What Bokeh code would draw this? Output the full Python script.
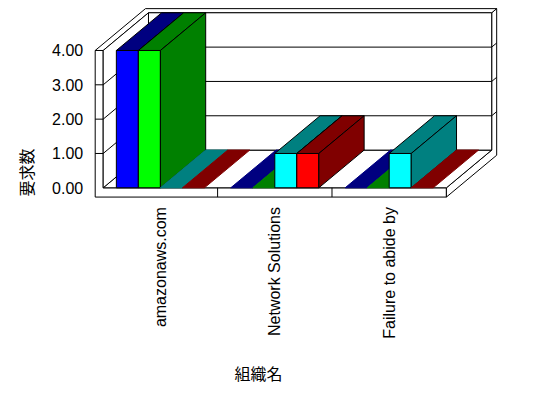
import math
from bokeh.plotting import figure
from bokeh.models import FixedTicker, NumeralTickFormatter, Range1d, LinearAxis
from bokeh.core.properties import value
from bokeh.embed import file_html
from bokeh.resources import INLINE

# ---- data -------------------------------------------------------------
categories = ["amazonaws.com", "Network Solutions", "Failure to abide by"]
series_blue = [4, 0, 0]
series_lime = [4, 0, 0]
series_cyan = [0, 1, 1]
series_red = [0, 1, 0]
y_ticks = [0, 1, 2, 3, 4]
y_title = "要求数"
x_title = "組織名"

# ---- style ------------------------------------------------------------
front_colors = ["#0000FF", "#00FF00", "#00FFFF", "#FF0000"]
dark_colors = ["#000080", "#008000", "#008080", "#800000"]
series = [series_blue, series_lime, series_cyan, series_red]

n_cat = len(categories)
y_top = max(y_ticks)

DX, DY = 0.396, 1.098      # depth offset of the 3D box (data units)
T = 0.07                    # left wall thickness
F = 0.27                    # floor thickness
TZ = 0.11                   # back wall thickness (fraction of depth)
GAP = 0.115
BW = (1 - 2 * GAP) / len(series)


def proj(pts):
    xs = [x + z * DX for x, y, z in pts]
    ys = [y + z * DY for x, y, z in pts]
    return xs, ys


p = figure(width=548, height=398, output_backend="svg", toolbar_location=None,
           x_range=Range1d(-0.8977, 3.8925), y_range=Range1d(-6.1375, 5.4559),
           min_border=0, x_axis_location=None, y_axis_location=None)
p.xgrid.visible = False
p.ygrid.visible = False
p.outline_line_color = None
p.background_fill_color = "white"
p.border_fill_color = "white"

W = n_cat
Z1 = 1 + TZ
faces = [
    [(-T, -F, 0), (W, -F, 0), (W, 0, 0), (0, 0, 0), (0, y_top, 0), (-T, y_top, 0)],
    [(W, -F, 0), (W, -F, Z1), (W, y_top, Z1), (W, y_top, 1), (W, 0, 1), (W, 0, 0)],
    [(-T, y_top, 0), (0, y_top, 0), (0, y_top, 1), (W, y_top, 1), (W, y_top, Z1), (-T, y_top, Z1)],
    [(0, 0, 0), (W, 0, 0), (W, 0, 1), (0, 0, 1)],
    [(0, 0, 0), (0, y_top, 0), (0, y_top, 1), (0, 0, 1)],
    [(0, 0, 1), (W, 0, 1), (W, y_top, 1), (0, y_top, 1)],
]
fx, fy = zip(*[proj(f) for f in faces])
p.patches(list(fx), list(fy), fill_color="white", line_color="black", line_width=1)

# grid lines on walls
gx, gy = [], []
for t in y_ticks:
    if 0 < t < y_top:
        xs, ys = proj([(-T, t, 0), (0, t, 0), (0, t, 1), (W, t, 1), (W, t, Z1)])
        gx.append(xs); gy.append(ys)
for i in range(1, n_cat):
    xs, ys = proj([(i, -F, 0), (i, 0, 0)])
    gx.append(xs); gy.append(ys)
p.multi_line(gx, gy, line_color="black", line_width=1)

# bars
bx, by, bfill, bline = [], [], [], []
for c in range(n_cat):
    for s, vals in enumerate(series):
        v = vals[c]
        x0 = c + GAP + s * BW
        x1 = x0 + BW
        if v == 0:
            xs, ys = proj([(x0, 0, 0), (x1, 0, 0), (x1, 0, 1), (x0, 0, 1)])
            bx.append(xs); by.append(ys); bfill.append(dark_colors[s]); bline.append(dark_colors[s])
            continue
        for face, col in (
            ([(x0, 0, 0), (x1, 0, 0), (x1, v, 0), (x0, v, 0)], front_colors[s]),
            ([(x0, v, 0), (x1, v, 0), (x1, v, 1), (x0, v, 1)], dark_colors[s]),
            ([(x1, 0, 0), (x1, 0, 1), (x1, v, 1), (x1, v, 0)], dark_colors[s]),
        ):
            xs, ys = proj(face)
            bx.append(xs); by.append(ys); bfill.append(col); bline.append("black")
p.patches(bx, by, fill_color=bfill, line_color=bline, line_width=1)

# axes (fixed at the front edges of the 3D box)
yaxis = LinearAxis(fixed_location=-T, ticker=FixedTicker(ticks=y_ticks),
                   formatter=NumeralTickFormatter(format="0.00"))
yaxis.axis_line_color = None
yaxis.major_tick_line_color = None
yaxis.minor_tick_line_color = None
yaxis.major_tick_out = 0
yaxis.major_tick_in = 0
yaxis.major_label_standoff = 12
yaxis.major_label_text_font = "Liberation Sans"
yaxis.major_label_text_font_size = "16px"
yaxis.major_label_text_color = "black"
p.add_layout(yaxis, "left")

xaxis = LinearAxis(fixed_location=-F, ticker=FixedTicker(ticks=[i + 0.5 for i in range(n_cat)]))
xaxis.major_label_overrides = {i + 0.5: name for i, name in enumerate(categories)}
xaxis.major_label_orientation = math.pi / 2
xaxis.axis_line_color = None
xaxis.major_tick_line_color = None
xaxis.minor_tick_line_color = None
xaxis.major_tick_out = 0
xaxis.major_tick_in = 0
xaxis.major_label_standoff = 10
xaxis.major_label_text_font = "Liberation Sans"
xaxis.major_label_text_font_size = "16px"
xaxis.major_label_text_color = "black"
p.add_layout(xaxis, "below")

# axis titles
p.text(x=[-0.679], y=[0.4457], text=[y_title], angle=math.pi / 2,
       text_align="center", text_baseline="middle",
       text_font=value("Noto Sans CJK JP"), text_font_size="16px", text_color="black")
p.text(x=[1.3575], y=[-5.409], text=[x_title],
       text_align="center", text_baseline="middle",
       text_font=value("Noto Sans CJK JP"), text_font_size="16px", text_color="black")

open("out.html", "w").write(file_html(p, INLINE))
